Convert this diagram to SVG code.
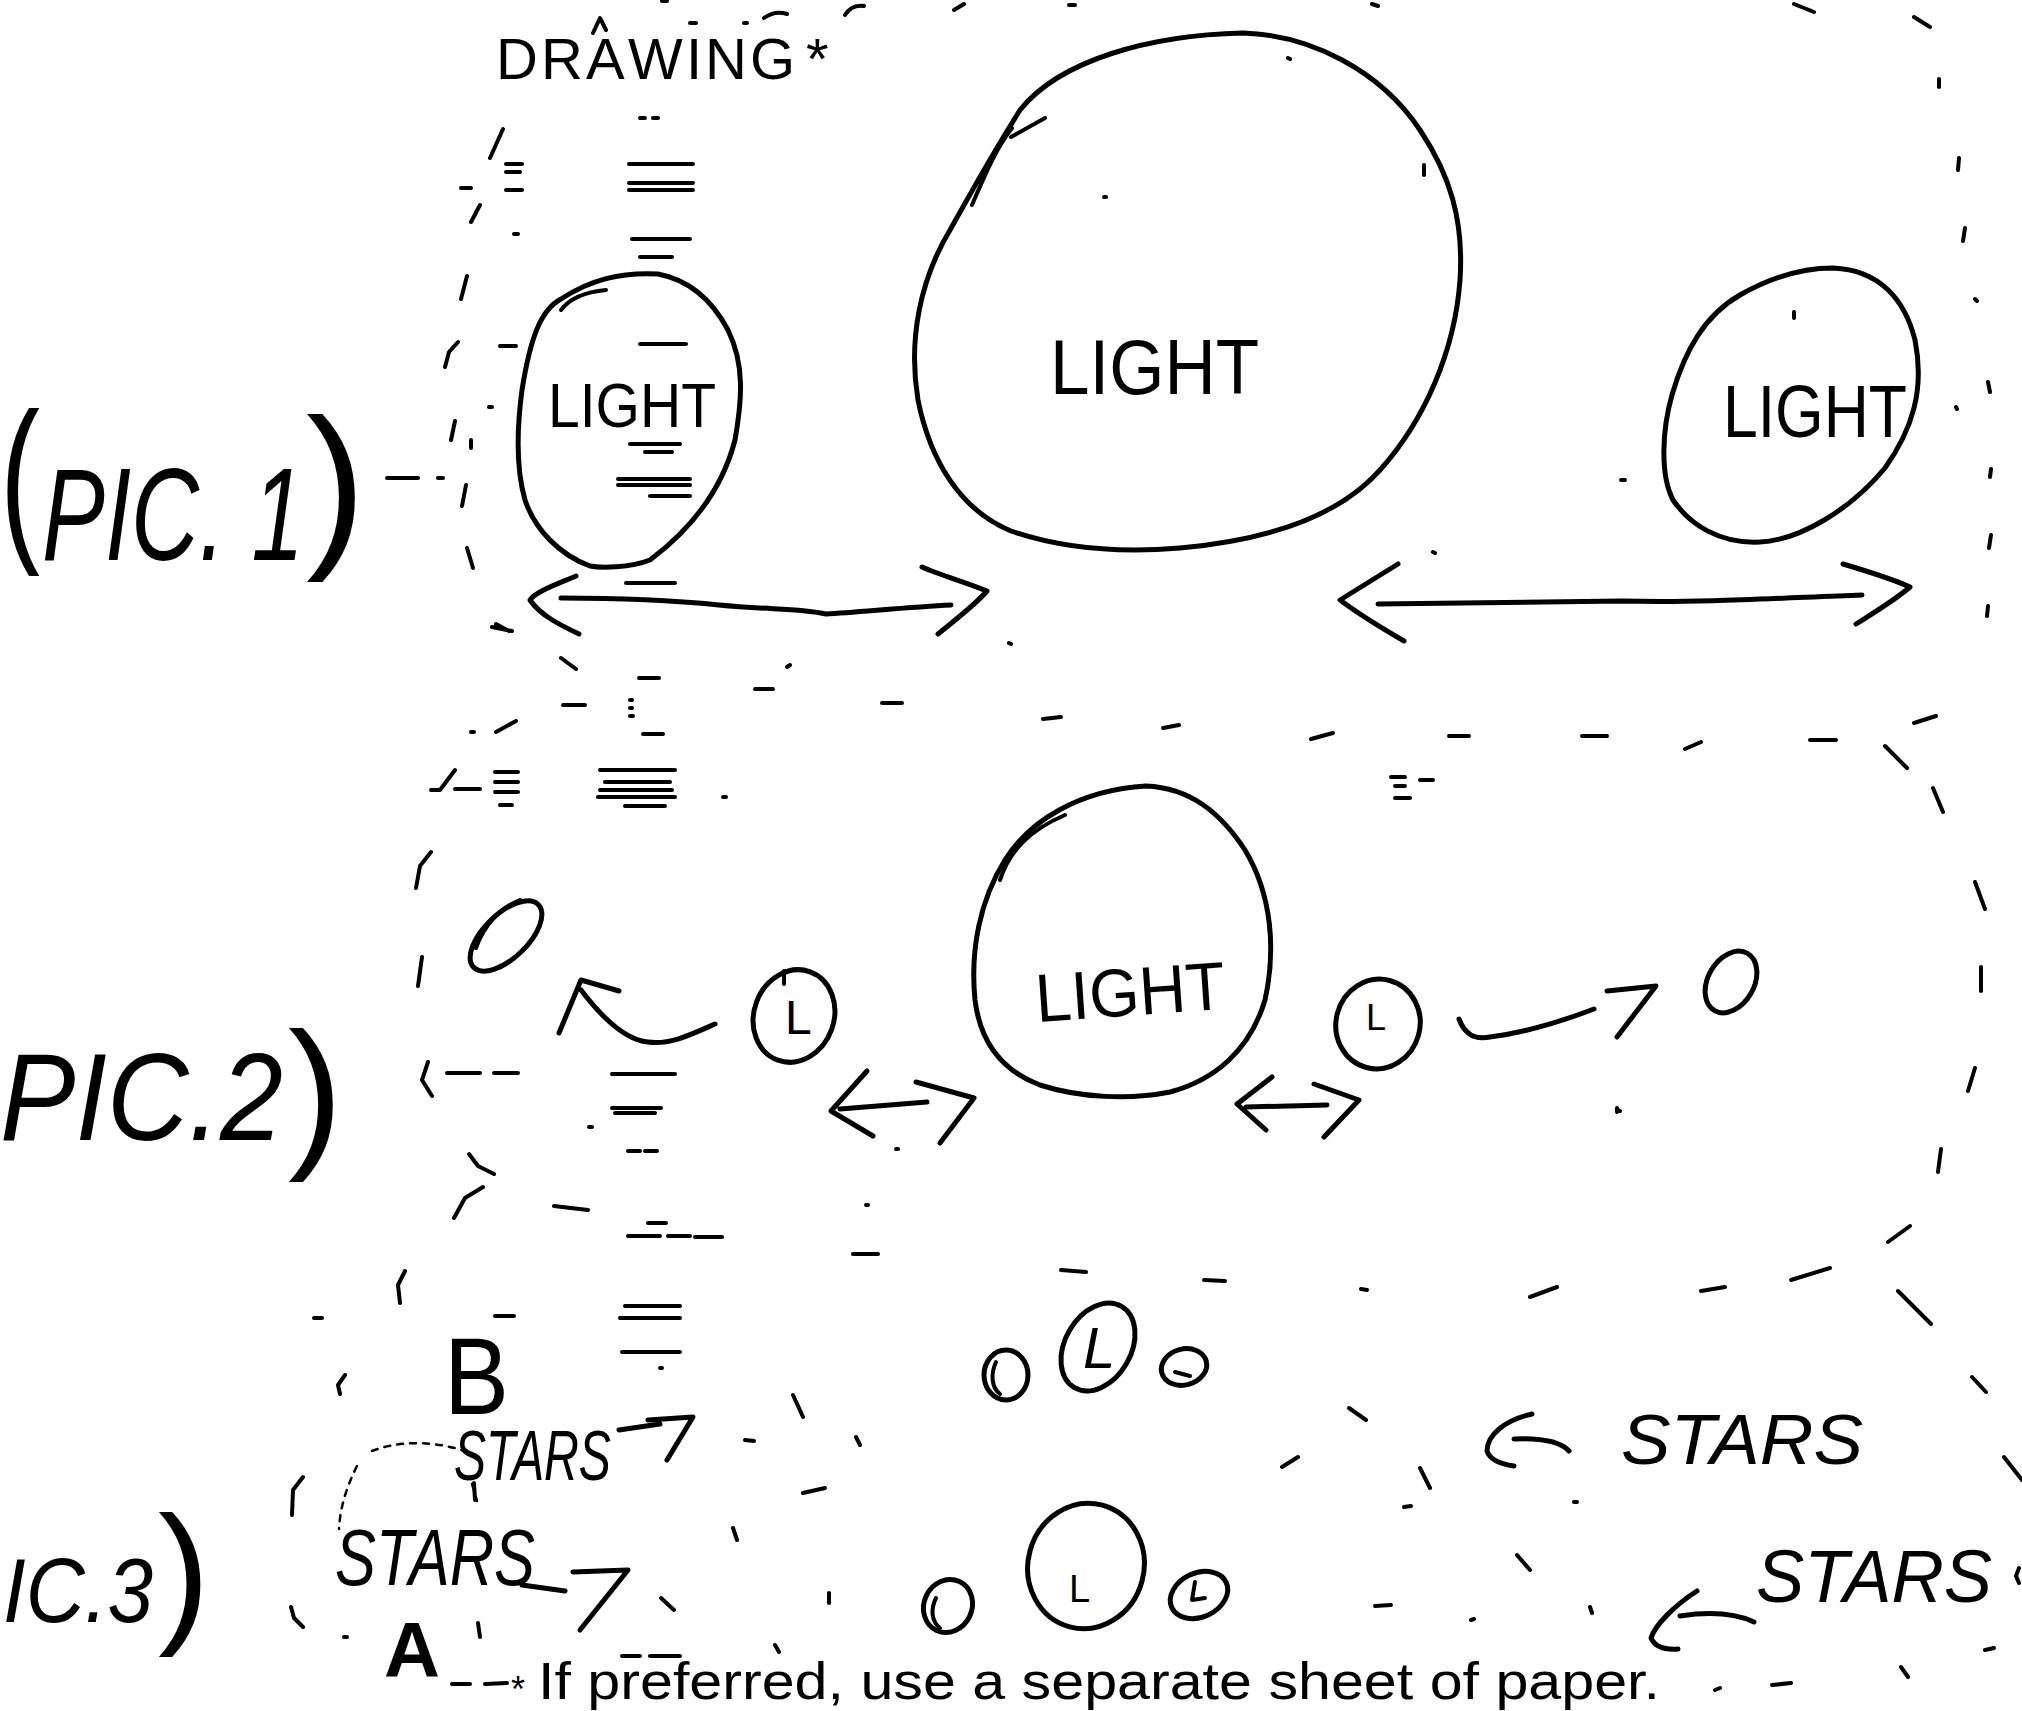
<svg xmlns="http://www.w3.org/2000/svg" width="2022" height="1711" viewBox="0 0 2022 1711">
<style>
.s{fill:none;stroke:#000;stroke-width:5;stroke-linecap:round;stroke-linejoin:round}
.m{fill:none;stroke:#000;stroke-width:4;stroke-linecap:round;stroke-linejoin:round}
.d{fill:none;stroke:#000;stroke-width:2.5;stroke-dasharray:6 7;stroke-linecap:round}
.hw{font-family:"Liberation Sans",Arial,sans-serif;fill:#000}
.it{font-style:italic}
.pr{font-family:"Liberation Sans",Arial,sans-serif;fill:#000}
</style>
<rect width="2022" height="1711" fill="#fff"/>

<g id="title">
<text class="pr" font-size="58" x="496 541 586 628 686 705 750 806" y="79">DRAWING*</text>
</g>

<g id="marks">
<path class="m" d="M593 33 L600 18 L606 30 M690 23 L696 23 M744 23 L747 23 M764 18 Q775 10 787 14 M845 15 Q852 4 864 6 M954 10 L964 4 M662 1 L667 1 M1794 4 L1814 12 M1914 17 L1930 27 M1069 5 L1075 5 M1372 4 L1378 6
M503 129 L490 158 M480 205 L471 222 M467 276 L461 299 M458 342 L449 352 L445 367 M455 421 L451 440 M471 440 L471 448 M466 485 L462 506 M467 548 L473 568 M496 624 L509 631 M387 478 L418 478 M438 478 L443 478 M506 164 L522 164 M506 172 L520 172 M506 190 L522 190 M461 188 L471 188 M514 234 L518 234 M500 346 L516 346 M489 407 L492 407
M640 118 L645 118 M653 118 L658 118 M629 164 L693 164 M629 183 L693 183 M629 190 L693 190 M632 239 L690 239 M640 257 L672 257 M640 344 L686 344 M630 444 L680 444 M645 452 L672 452 M618 479 L690 479 M618 485 L690 485 M650 496 L690 496 M626 583 L675 583
M1939 79 L1939 87 M1959 158 L1958 170 M1965 228 L1963 241 M1975 299 L1977 301 M1988 382 L1990 392 M1956 407 L1957 409 M1991 469 L1990 477 M1991 535 L1989 548 M1988 606 L1987 616
M1288 58 L1290 59 M1104 197 L1106 197 M1424 165 L1424 175 M1794 312 L1794 318 M1621 480 L1625 480 M1433 552 L1435 553
M492 627 L512 631 M561 658 L576 669 M639 678 L659 678 M755 689 L773 689 M787 667 L790 665 M882 703 L902 703 M1009 643 L1011 644 M1043 719 L1061 717 M563 705 L585 705 M630 700 L632 700 M630 708 L632 708 M630 716 L633 716 M643 734 L663 734 M516 721 L496 732 M471 732 L474 732 M1163 728 L1179 725 M1311 739 L1333 733 M1449 736 L1469 736 M1582 736 L1607 736 M1685 749 L1701 742 M1810 740 L1836 740 M1914 723 L1936 716 M1885 746 L1907 768 M1391 777 L1405 777 M1395 786 L1405 786 M1420 780 L1433 780 M1395 798 L1410 798
M440 790 L455 770 M455 789 L480 789 M431 790 L440 790 M495 772 L518 772 M495 782 L518 782 M495 792 L518 792 M500 805 L512 805 M600 770 L675 770 M605 782 L670 782 M600 790 L672 790 M598 797 L675 797 M625 806 L665 806 M723 797 L726 797
M431 852 L420 866 L416 888 M422 957 L418 986 M428 1062 L422 1080 L432 1096 M494 1073 L518 1073 M612 1108 L661 1108 M615 1113 L655 1113 M589 1127 L592 1127 M628 1151 L640 1151 M645 1151 L657 1151 M469 1154 L478 1166 L494 1174 M483 1187 L465 1198 L454 1218 M554 1206 L588 1210 M628 1236 L660 1236 M668 1236 L690 1236 M695 1237 L722 1237 M648 1223 L666 1223 M866 1205 L868 1205 M896 1149 L898 1149 M853 1254 L878 1254
M1933 788 L1943 812 M1975 882 L1985 909 M1981 967 L1981 991 M1975 1068 L1968 1091 M1941 1149 L1938 1172 M1910 1226 L1888 1242 M1617 1108 L1617 1112
M1061 1270 L1086 1272 M1204 1280 L1225 1281 M1361 1289 L1367 1290 M1530 1297 L1557 1287 M1701 1291 L1725 1287 M1791 1280 L1830 1268 M1898 1291 L1931 1324
M405 1271 L398 1285 L400 1303 M314 1318 L322 1318 M495 1316 L514 1316 M345 1375 L338 1385 L340 1394 M625 1306 L680 1306 M620 1318 L680 1318 M622 1352 L680 1352 M660 1368 L662 1368 M303 1477 L293 1490 L292 1515 M291 1607 L294 1618 L303 1627 M344 1637 L347 1637 M478 1623 L480 1637 M474 1483 L475 1500 M793 1395 L803 1417 M745 1440 L754 1441 M856 1437 L860 1445 M803 1493 L825 1488 M733 1528 L737 1540 M661 1598 L674 1610 M829 1593 L829 1603 M775 1645 L779 1652
M1349 1408 L1366 1420 M1282 1467 L1298 1457 M1420 1468 L1430 1488 M1404 1507 L1411 1506 M1574 1502 L1577 1502 M1517 1555 L1530 1570 M1375 1606 L1391 1605 M1471 1620 L1474 1619 M1590 1607 L1592 1613 M1972 1377 L1986 1392 M2004 1457 L2022 1480 M1985 1650 L1994 1648 M1901 1667 L1908 1677 M1715 1690 L1720 1688 M1772 1685 L1791 1683 M1618 1110 L1620 1111 M2019 1568 L2016 1576 L2019 1583
M452 1684 L470 1684 M485 1684 L507 1683 M622 1656 L640 1656 M650 1656 L680 1656"/>
<path class="m" stroke-width="8" d="M447 1073 L480 1073 M612 1074 L675 1074"/>
<path class="d" d="M372 1451 C400 1440 440 1440 475 1455 M357 1466 C345 1490 340 1510 339 1529 M472 1484 L477 1501"/>
</g>

<g id="pic1-label">
<text class="hw" x="0" y="539" font-size="180" textLength="40" lengthAdjust="spacingAndGlyphs">(</text>
<text class="hw it" x="42" y="560" font-size="132" textLength="262" lengthAdjust="spacingAndGlyphs">PIC. 1</text>
<text class="hw" x="306" y="545" font-size="180" textLength="60" lengthAdjust="spacingAndGlyphs">)</text>
</g>

<g id="pic1-light-left">
<path class="s" d="M658 274 C690 280 712 300 728 330 C745 365 742 400 735 440 C722 490 690 530 650 560 C630 568 600 568 590 566 C560 555 535 530 525 500 C515 465 518 420 522 390 C530 340 540 310 561 299 C590 280 620 272 658 274 Z"/>
<path class="m" d="M561 310 C570 298 585 292 606 290"/>
<text class="hw" x="548" y="427" font-size="63" textLength="168" lengthAdjust="spacingAndGlyphs">LIGHT</text>
</g>

<g id="pic1-light-big">
<path class="s" d="M1243 33 C1310 35 1380 70 1420 130 C1450 175 1464 220 1460 280 C1455 350 1425 420 1380 470 C1340 515 1270 540 1180 548 C1120 553 1060 548 1011 531 C960 510 930 460 918 400 C908 340 920 280 950 230 C975 185 995 150 1020 110 C1060 60 1150 35 1243 33 Z"/>
<path class="m" d="M972 205 C985 175 995 150 1012 128 M1011 137 L1045 118"/>
<text class="hw" x="1050" y="394" font-size="78" textLength="209" lengthAdjust="spacingAndGlyphs">LIGHT</text>
</g>

<g id="pic1-light-right">
<path class="s" d="M1833 268 C1880 270 1905 300 1915 340 C1925 390 1912 430 1885 468 C1850 510 1800 540 1760 542 C1720 544 1690 525 1673 500 C1660 475 1662 430 1672 395 C1685 350 1705 315 1740 295 C1770 278 1800 268 1833 268 Z"/>
<text class="hw" x="1723" y="437" font-size="75" textLength="184" lengthAdjust="spacingAndGlyphs">LIGHT</text>
</g>

<g id="pic2-label">
<text class="hw it" x="0" y="1140" font-size="125" textLength="283" lengthAdjust="spacingAndGlyphs">PIC.2</text>
<text class="hw" x="288" y="1148" font-size="165" textLength="55" lengthAdjust="spacingAndGlyphs">)</text>
</g>

<g id="pic2-small-left">
<ellipse class="s" cx="506" cy="936" rx="22" ry="45" transform="rotate(46 506 936)"/>
<path class="m" d="M476 948 C484 925 500 908 520 900"/>
</g>

<g id="pic2-star-left">
<ellipse class="s" cx="794" cy="1016" rx="40" ry="47" transform="rotate(20 794 1016)"/>
<path class="m" d="M784 971 L784 984"/>
<text class="hw" x="785" y="1034" font-size="48">L</text>
</g>

<g id="pic2-light">
<path class="s" d="M1146 786 C1190 788 1220 812 1245 850 C1272 895 1276 950 1265 1000 C1250 1050 1215 1080 1170 1092 C1130 1100 1080 1098 1040 1085 C1000 1070 980 1040 975 1000 C970 950 980 900 1005 860 C1030 820 1080 790 1146 786 Z"/>
<path class="m" d="M1000 880 C1010 850 1030 830 1065 815"/>
<text class="hw" x="1037" y="1022" font-size="68" textLength="190" lengthAdjust="spacingAndGlyphs" transform="rotate(-4 1037 1022)">LIGHT</text>
</g>

<g id="pic2-star-right">
<ellipse class="s" cx="1378" cy="1024" rx="42" ry="45" transform="rotate(15 1378 1024)"/>
<text class="hw" x="1366" y="1030" font-size="36">L</text>
</g>

<g id="pic2-small-right">
<ellipse class="s" cx="1731" cy="982" rx="23" ry="33" transform="rotate(30 1731 982)"/>
</g>

<g id="pic3-label">
<text class="hw it" x="3" y="1622" font-size="90" textLength="150" lengthAdjust="spacingAndGlyphs">IC.3</text>
<text class="hw" x="158" y="1625" font-size="156" textLength="52" lengthAdjust="spacingAndGlyphs">)</text>
</g>

<g id="pic3-B"><text class="hw" x="444" y="1414" font-size="110" textLength="65" lengthAdjust="spacingAndGlyphs">B</text></g>
<g id="pic3-A"><text class="hw" x="384" y="1677" font-size="77" font-weight="bold" textLength="56" lengthAdjust="spacingAndGlyphs">A</text></g>

<g id="stars-upper-left"><text class="hw it" x="454" y="1480" font-size="70" textLength="157" lengthAdjust="spacingAndGlyphs">STARS</text></g>
<g id="stars-lower-left"><text class="hw it" x="335" y="1585" font-size="80" textLength="200" lengthAdjust="spacingAndGlyphs">STARS</text></g>
<g id="stars-upper-right"><text class="hw it" x="1621" y="1464" font-size="70" textLength="242" lengthAdjust="spacingAndGlyphs">STARS</text></g>
<g id="stars-lower-right"><text class="hw it" x="1756" y="1602" font-size="74" textLength="236" lengthAdjust="spacingAndGlyphs">STARS</text></g>

<g id="pic3-row-b">
<ellipse class="s" cx="1006" cy="1375" rx="22" ry="25"/>
<path class="m" d="M996 1362 C990 1375 992 1388 1000 1394"/>
<ellipse class="s" cx="1098" cy="1347" rx="33" ry="47" transform="rotate(30 1098 1347)"/>
<text class="hw it" x="1083" y="1368" font-size="58">L</text>
<ellipse class="s" cx="1184" cy="1367" rx="23" ry="18" transform="rotate(-15 1184 1367)"/>
<path class="m" d="M1175 1372 L1190 1376"/>
</g>

<g id="pic3-row-a">
<ellipse class="s" cx="948" cy="1606" rx="24" ry="27" transform="rotate(25 948 1606)"/>
<path class="m" d="M936 1598 C930 1610 932 1622 940 1628"/>
<ellipse class="s" cx="1086" cy="1566" rx="58" ry="63" transform="rotate(15 1086 1566)"/>
<text class="hw" x="1069" y="1602" font-size="38">L</text>
<ellipse class="s" cx="1199" cy="1595" rx="30" ry="22" transform="rotate(-25 1199 1595)"/>
<path class="m" d="M1195 1582 L1192 1600 L1205 1598"/>
</g>

<g id="footnote">
<text class="pr" x="511" y="1702" font-size="36">*</text>
<text class="pr" x="538" y="1699" font-size="52" textLength="1122" lengthAdjust="spacingAndGlyphs">If preferred, use a separate sheet of paper.</text>
</g>

<g id="connectors">
<path class="s" d="M576 576 C555 585 535 592 530 600 C540 615 560 625 579 634 M561 598 C620 598 670 600 719 605 C770 610 800 608 826 614 C860 612 910 607 951 605 M922 567 C940 575 965 582 987 591 C975 605 955 620 938 634"/>
<path class="s" d="M1398 564 L1340 600 C1360 615 1385 630 1404 641 M1378 604 L1622 601 C1700 603 1780 598 1862 595 M1843 564 C1870 572 1890 578 1910 587 C1895 600 1875 612 1856 624"/>
<path class="s" d="M715 1024 C690 1035 670 1045 648 1042 C625 1040 600 1015 581 990 M559 1033 L581 980 L619 991"/>
<path class="s" d="M1459 1019 C1465 1035 1475 1040 1490 1037 C1530 1032 1565 1020 1594 1009 M1607 991 L1656 986 L1617 1037"/>
<path class="s" d="M867 1071 L831 1111 L873 1136 M840 1109 L927 1102 M916 1082 L974 1098 L940 1143"/>
<path class="s" d="M1272 1077 L1237 1104 L1266 1130 M1246 1107 L1327 1105 M1314 1084 L1359 1100 L1324 1137"/>
<path class="s" d="M619 1430 L660 1424 M648 1420 L693 1417 L667 1460"/>
<path class="s" d="M522 1585 L565 1591 M573 1572 L628 1570 L580 1630"/>
<path class="s" d="M1532 1414 C1505 1420 1487 1435 1487 1451 C1490 1460 1500 1464 1514 1466 M1514 1439 C1540 1438 1560 1441 1569 1451"/>
<path class="s" d="M1697 1591 C1675 1605 1655 1625 1651 1638 C1655 1647 1665 1650 1678 1649 M1680 1616 C1700 1613 1730 1611 1754 1622"/>
</g>
</svg>
